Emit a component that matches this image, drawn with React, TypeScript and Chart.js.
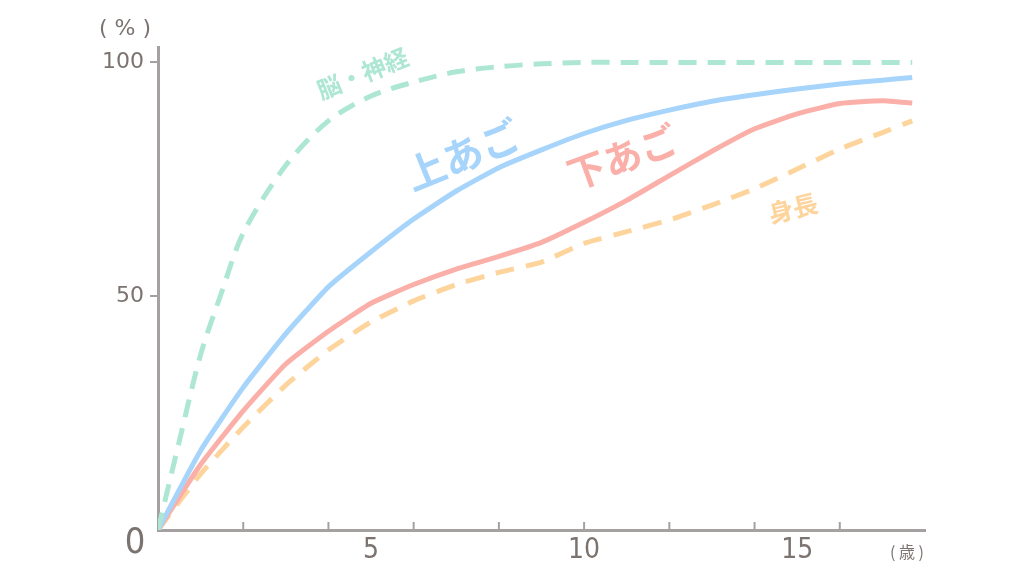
import { useEffect, useRef } from "react";
import Chart from "chart.js/auto";

// ages (years) shared by the jaw and height curves
const ages = [0, 1, 2, 3, 4, 5, 6, 7, 8, 9, 10, 11, 12, 13, 14, 15, 16, 17, 17.7];
const upperJaw = [0, 17, 30.5, 42, 52, 59.5, 66.5, 72.5, 77.5, 81.3, 84.8, 87.6, 89.8, 91.7, 93.1, 94.3, 95.4, 96.2, 96.8];
const lowerJaw = [0, 14, 25.5, 35.5, 42.5, 48.5, 52.5, 55.8, 58.5, 61.5, 65.8, 70.5, 75.8, 81, 85.8, 89, 91.2, 91.8, 91.3];
const bodyHeight = [0, 12, 22, 31, 38.5, 44.5, 49, 52.5, 55.1, 57.3, 61.3, 63.8, 66.3, 69.5, 73, 77.2, 81.5, 85, 87.5];

// brain curve needs a few extra points near birth
const brainAges = [0, 0.5, 1, 1.5, 2, 3, 4, 5, 6, 7, 8, 9, 10, 11, 12, 13, 14, 15, 16, 17, 17.7];
const brain = [0, 19, 37.5, 51, 63.5, 78, 87.5, 92.8, 95.8, 98, 99.1, 99.7, 100, 100, 100, 100, 100, 100, 100, 100, 100];

const xLabelTicks = [5, 10, 15];
const xMarkTicks = [2, 4, 6, 8, 10, 12, 14, 16];
const yTicks = [0, 50, 100];

const AXIS = "#a5a1a0";
const TEXT = "#7b7370";
const GREEN = "#ade7d3";
const BLUE = "#a6d4fb";
const RED = "#fab0a8";
const ORANGE = "#fed49d";
const JP = "'Noto Sans CJK JP', sans-serif";
const NUM = "'DejaVu Sans Condensed', 'Liberation Sans Narrow', sans-serif";

const toPoints = (xs: number[], ys: number[]) => xs.map((x, i) => ({ x, y: ys[i] }));

// series names written along the curves (data coordinates)
const curveLabels = [
  { text: "脳・神経", x: 4.8, y: 97.6, angle: -22, size: 24, color: GREEN },
  { text: "上あご", x: 7.15, y: 80.2, angle: -22, size: 40, color: BLUE },
  { text: "下あご", x: 10.9, y: 79.8, angle: -20, size: 38, color: RED },
  { text: "身長", x: 14.9, y: 68.8, angle: -14, size: 25, color: ORANGE },
];

const decorPlugin = {
  id: "decor",
  beforeDatasetsDraw(chart: any) {
    const { ctx, chartArea, scales } = chart;
    ctx.save();
    ctx.strokeStyle = AXIS;
    ctx.lineWidth = 2;
    xMarkTicks.forEach((v) => {
      const px = scales.x.getPixelForValue(v);
      ctx.beginPath();
      ctx.moveTo(px, chartArea.bottom - 1);
      ctx.lineTo(px, chartArea.bottom - 8);
      ctx.stroke();
    });
    ctx.restore();
  },
  afterDraw(chart: any) {
    const { ctx, chartArea, scales } = chart;
    ctx.save();
    ctx.textAlign = "center";
    ctx.textBaseline = "middle";
    curveLabels.forEach((l) => {
      ctx.save();
      ctx.translate(scales.x.getPixelForValue(l.x), scales.y.getPixelForValue(l.y));
      ctx.rotate((l.angle * Math.PI) / 180);
      ctx.font = `bold ${l.size}px ${JP}`;
      ctx.fillStyle = l.color;
      ctx.fillText(l.text, 0, 0);
      ctx.restore();
    });
    ctx.fillStyle = TEXT;
    ctx.font = "22px 'DejaVu Sans', sans-serif";
    ctx.fillText("( % )", chartArea.left - 33, chartArea.top - 18);
    ctx.font = `16px ${JP}`;
    ctx.fillText("( 歳 )", chartArea.right - 18, chartArea.bottom + 22);
    ctx.font = `36px ${NUM}`;
    ctx.fillText("0", chartArea.left - 23, chartArea.bottom + 14);
    ctx.restore();
  },
};

const GrowthChart: React.FC = () => {
  const chartRef = useRef<HTMLCanvasElement>(null);
  const chartInstance = useRef<Chart | null>(null);

  useEffect(() => {
    if (!chartRef.current) return;
    if (chartInstance.current) chartInstance.current.destroy();
    const ctx = chartRef.current.getContext("2d");
    if (!ctx) return;

    chartInstance.current = new Chart(ctx, {
      type: "line",
      data: {
        datasets: [
          {
            label: "脳・神経",
            data: toPoints(brainAges, brain),
            borderColor: GREEN,
            borderWidth: 5,
            borderDash: [18, 11],
            tension: 0.3,
          },
          {
            label: "上あご",
            data: toPoints(ages, upperJaw),
            borderColor: BLUE,
            borderWidth: 5,
            tension: 0.15,
          },
          {
            label: "下あご",
            data: toPoints(ages, lowerJaw),
            borderColor: RED,
            borderWidth: 5,
            tension: 0.15,
          },
          {
            label: "身長",
            data: toPoints(ages, bodyHeight),
            borderColor: ORANGE,
            borderWidth: 5,
            borderDash: [19, 12],
            tension: 0.15,
          },
        ],
      },
      options: {
        responsive: true,
        maintainAspectRatio: false,
        animation: false,
        elements: { point: { radius: 0 } },
        plugins: {
          legend: { display: false },
          tooltip: { enabled: false },
        },
        layout: { padding: { left: 0, right: 99, top: 47, bottom: 0 } },
        scales: {
          x: {
            type: "linear",
            min: 0,
            max: 18,
            afterFit: (scale: any) => {
              scale.height = 46;
            },
            afterBuildTicks: (scale: any) => {
              scale.ticks = xLabelTicks.map((value) => ({ value }));
            },
            grid: { display: false, drawTicks: false },
            border: { display: true, color: AXIS, width: 3 },
            ticks: {
              padding: 4,
              color: TEXT,
              font: { size: 28, family: NUM },
              maxRotation: 0,
            },
          },
          y: {
            type: "linear",
            min: 0,
            max: 103.3,
            afterFit: (scale: any) => {
              scale.width = 158;
            },
            afterBuildTicks: (scale: any) => {
              scale.ticks = yTicks.map((value) => ({ value }));
            },
            grid: {
              drawOnChartArea: false,
              drawTicks: true,
              tickLength: 8,
              lineWidth: 2,
              color: (c: any) => (c.tick && c.tick.value === 0 ? "rgba(0,0,0,0)" : AXIS),
            },
            border: { display: true, color: AXIS, width: 3 },
            ticks: {
              padding: 6,
              color: TEXT,
              font: { size: 22, family: "'DejaVu Sans', sans-serif" },
              callback: (value: any) => (value === 0 ? "" : String(value)),
            },
          },
        },
      },
      plugins: [decorPlugin],
    });

    return () => {
      if (chartInstance.current) {
        chartInstance.current.destroy();
        chartInstance.current = null;
      }
    };
  }, []);

  return (
    <div style={{ position: "fixed", left: 0, top: 0, width: 1024, height: 576, background: "#ffffff" }}>
      <canvas ref={chartRef} />
    </div>
  );
};

export default function App() {
  return <GrowthChart />;
}
